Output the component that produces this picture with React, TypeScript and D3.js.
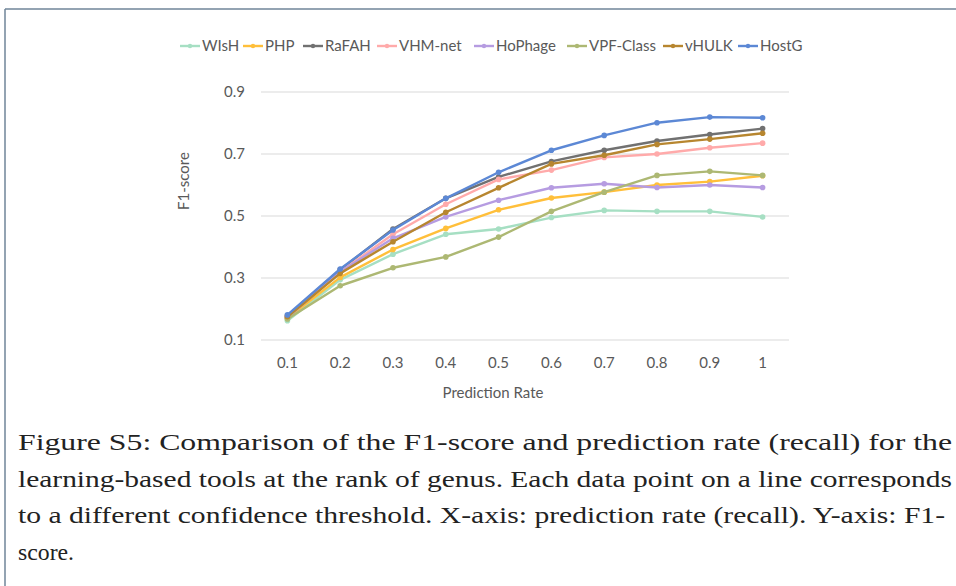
import React, { useEffect, useRef } from "react";
import * as d3 from "d3";

const rates = ["0.1", "0.2", "0.3", "0.4", "0.5", "0.6", "0.7", "0.8", "0.9", "1"];
const yTicks = [0.1, 0.3, 0.5, 0.7, 0.9];

const tools = ["WIsH", "PHP", "RaFAH", "VHM-net", "HoPhage", "VPF-Class", "vHULK", "HostG"];
const toolColors = ["#a6dfc3", "#ffbf3a", "#717171", "#ffaaaa", "#b69ce1", "#adb873", "#b7862f", "#5c88d5"];

const wish = [0.162, 0.294, 0.377, 0.441, 0.458, 0.495, 0.518, 0.515, 0.515, 0.497];
const php = [0.17, 0.302, 0.392, 0.46, 0.52, 0.558, 0.577, 0.6, 0.611, 0.63];
const rafah = [0.178, 0.327, 0.458, 0.557, 0.626, 0.676, 0.712, 0.742, 0.763, 0.782];
const vhmNet = [0.175, 0.32, 0.441, 0.538, 0.618, 0.648, 0.689, 0.7, 0.72, 0.735];
const hoPhage = [0.172, 0.32, 0.428, 0.497, 0.551, 0.591, 0.604, 0.592, 0.6, 0.592];
const vpfClass = [0.168, 0.275, 0.333, 0.368, 0.432, 0.515, 0.577, 0.631, 0.644, 0.631];
const vhulk = [0.175, 0.315, 0.417, 0.512, 0.591, 0.668, 0.696, 0.731, 0.748, 0.767];
const hostG = [0.181, 0.329, 0.455, 0.557, 0.641, 0.712, 0.76, 0.801, 0.819, 0.817];

const series = [wish, php, rafah, vhmNet, hoPhage, vpfClass, vhulk, hostG];

const captionLines = [
  "Figure S5: Comparison of the F1-score and prediction rate (recall) for the",
  "learning-based tools at the rank of genus. Each data point on a line corresponds",
  "to a different confidence threshold. X-axis: prediction rate (recall). Y-axis: F1-",
  "score.",
];

// legend start x for each item (layout only)
const legendX = [180, 243, 303, 377, 474, 567, 663, 738];

const W = 956;
const H = 586;

function App() {
  const ref = useRef<SVGSVGElement>(null);

  useEffect(() => {
    const svg = d3.select(ref.current);
    svg.selectAll("*").remove();

    const font = "Lato, 'Open Sans', sans-serif";
    const fs = 15;

    // frame
    svg.append("line").attr("x1", 5).attr("x2", W).attr("y1", 9).attr("y2", 9)
      .attr("stroke", "#6f8599").attr("stroke-width", 1.5);
    svg.append("line").attr("x1", 5).attr("x2", 5).attr("y1", 9).attr("y2", H)
      .attr("stroke", "#6f8599").attr("stroke-width", 1.5);

    const x = d3.scaleBand().domain(rates).range([261, 789]);
    const y = d3.scaleLinear().domain([0.1, 0.9]).range([340, 92]);

    // gridlines
    svg.append("g").selectAll("line").data(yTicks).join("line")
      .attr("x1", 261).attr("x2", 789)
      .attr("y1", (d) => y(d)).attr("y2", (d) => y(d))
      .attr("stroke", "#d9d9d9").attr("stroke-width", 1);

    // y tick labels
    svg.append("g").selectAll("text").data(yTicks).join("text")
      .attr("x", 245).attr("y", (d) => y(d)).attr("dy", "0.35em")
      .attr("text-anchor", "end")
      .attr("font-family", font).attr("font-size", fs).attr("fill", "#595959")
      .text((d) => d3.format(".1f")(d));

    // x tick labels
    svg.append("g").selectAll("text").data(rates).join("text")
      .attr("x", (d) => x(d)! + x.bandwidth() / 2).attr("y", 363).attr("dy", "0.35em")
      .attr("text-anchor", "middle")
      .attr("font-family", font).attr("font-size", fs).attr("fill", "#595959")
      .text((d) => d);

    // axis titles
    svg.append("text").attr("x", 493).attr("y", 393).attr("dy", "0.35em")
      .attr("text-anchor", "middle").attr("font-family", font).attr("font-size", fs)
      .attr("fill", "#595959").text("Prediction Rate");
    svg.append("text").attr("transform", "translate(184,181) rotate(-90)").attr("dy", "0.35em")
      .attr("text-anchor", "middle").attr("font-family", font).attr("font-size", fs)
      .attr("fill", "#595959").text("F1-score");

    const line = d3.line<number>()
      .x((d, i) => x(rates[i])! + x.bandwidth() / 2)
      .y((d) => y(d));

    series.forEach((vals, s) => {
      const g = svg.append("g");
      g.append("path").datum(vals).attr("d", line).attr("fill", "none")
        .attr("stroke", toolColors[s]).attr("stroke-width", 2.4)
        .attr("stroke-linejoin", "round");
      g.selectAll("circle").data(vals).join("circle")
        .attr("cx", (d, i) => x(rates[i])! + x.bandwidth() / 2)
        .attr("cy", (d) => y(d)).attr("r", 2.8)
        .attr("fill", toolColors[s]);
    });

    // legend
    const lg = svg.append("g").selectAll("g").data(tools).join("g")
      .attr("transform", (d, i) => `translate(${legendX[i]},46)`);
    lg.append("line").attr("x1", 0).attr("x2", 20).attr("y1", 0).attr("y2", 0)
      .attr("stroke", (d, i) => toolColors[i]).attr("stroke-width", 2.4);
    lg.append("circle").attr("cx", 10).attr("cy", 0).attr("r", 2.2)
      .attr("fill", (d, i) => toolColors[i]);
    lg.append("text").attr("x", 22).attr("y", 0).attr("dy", "0.35em")
      .attr("font-family", font).attr("font-size", fs).attr("fill", "#595959")
      .text((d) => d);

    // caption
    const cap = svg.append("g").selectAll("text").data(captionLines).join("text")
      .attr("x", 18).attr("y", (d, i) => 450 + i * 36.5)
      .attr("font-family", "'Liberation Serif', serif").attr("font-size", 23)
      .attr("fill", "#222")
      .text((d) => d);
    cap
      .attr("textLength", (d, i) => [934, 934, 927, 56][i])
      .attr("lengthAdjust", "spacingAndGlyphs");
  }, []);

  return (
    <svg ref={ref} width={W} height={H}
      style={{ position: "absolute", left: 0, top: 0, background: "#fff" }} />
  );
}

export default App;
